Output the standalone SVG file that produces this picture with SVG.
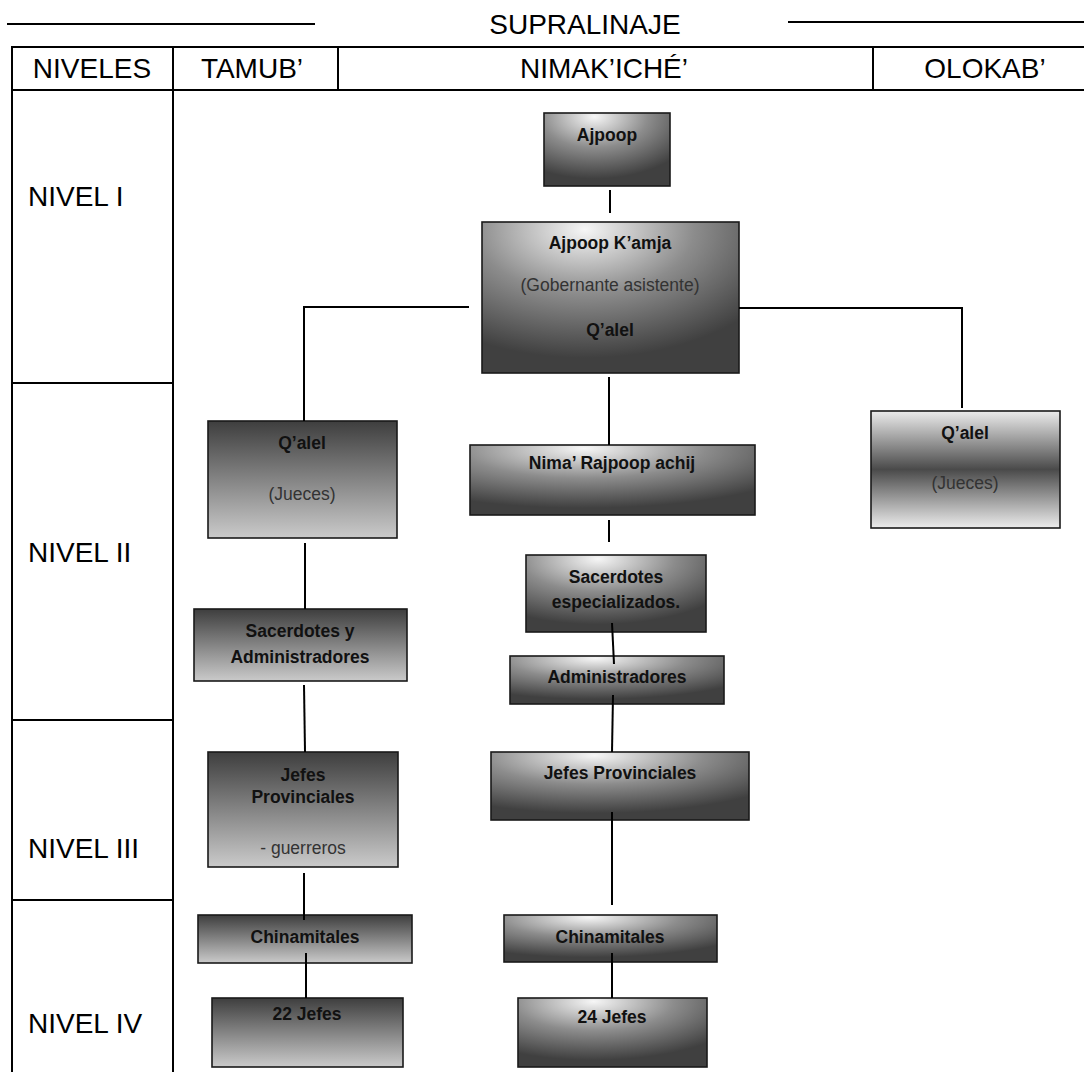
<svg xmlns="http://www.w3.org/2000/svg" width="1084" height="1072" viewBox="0 0 1084 1072">
<defs>
<radialGradient id="gDiag" cx="0.4" cy="0.05" r="0.85" fx="0.4" fy="0.05">
<stop offset="0" stop-color="#f6f6f6"/>
<stop offset="0.5" stop-color="#8c8c8c"/>
<stop offset="1" stop-color="#404040"/>
</radialGradient>
<linearGradient id="gDown" x1="0" y1="0" x2="0" y2="1">
<stop offset="0" stop-color="#3e3e3e"/>
<stop offset="1" stop-color="#cacaca"/>
</linearGradient>
<linearGradient id="gMid" x1="0" y1="0" x2="0" y2="1">
<stop offset="0" stop-color="#ececec"/>
<stop offset="0.5" stop-color="#4a4a4a"/>
<stop offset="1" stop-color="#ececec"/>
</linearGradient>
</defs>
<style>
.tbl{stroke:#000;stroke-width:2;fill:none}
.hdr{font-family:"Liberation Sans",Arial,sans-serif;font-size:28px;fill:#000;text-anchor:middle}
.lvl{font-family:"Liberation Sans",Arial,sans-serif;font-size:28px;fill:#000}
.box{stroke:#1a1a1a;stroke-width:1.6}
.d{fill:url(#gDiag)}
.v{fill:url(#gDown)}
.m{fill:url(#gMid)}
.b{font-family:"Liberation Sans",Arial,sans-serif;font-size:17.5px;font-weight:bold;fill:#111;text-anchor:middle}
.n{font-family:"Liberation Sans",Arial,sans-serif;font-size:17.5px;fill:#333;text-anchor:middle}
.con{stroke:#000;stroke-width:2;fill:none}
</style>
<rect width="1084" height="1072" fill="#fff"/>
<g id="table">
<line class="tbl" x1="7" y1="24" x2="315" y2="24" stroke-width="1.6"/>
<line class="tbl" x1="788" y1="22" x2="1084" y2="22"/>
<text class="hdr" x="585" y="34">SUPRALINAJE</text>
<line class="tbl" x1="11" y1="47" x2="1084" y2="47"/>
<line class="tbl" x1="11" y1="90" x2="1084" y2="90"/>
<line class="tbl" x1="12" y1="46" x2="12" y2="1072"/>
<line class="tbl" x1="173" y1="46" x2="173" y2="1072"/>
<line class="tbl" x1="338" y1="47" x2="338" y2="90"/>
<line class="tbl" x1="873" y1="47" x2="873" y2="90"/>
<line class="tbl" x1="12" y1="383" x2="173" y2="383"/>
<line class="tbl" x1="12" y1="720" x2="173" y2="720"/>
<line class="tbl" x1="12" y1="900" x2="173" y2="900"/>
<text class="hdr" x="92" y="78">NIVELES</text>
<text class="hdr" x="252" y="78">TAMUB’</text>
<text class="hdr" x="604" y="78">NIMAK’ICHÉ’</text>
<text class="hdr" x="985" y="78">OLOKAB’</text>
<text class="lvl" x="28" y="206">NIVEL I</text>
<text class="lvl" x="28" y="562">NIVEL II</text>
<text class="lvl" x="28" y="858">NIVEL III</text>
<text class="lvl" x="28" y="1033">NIVEL IV</text>
</g>
<g id="n-ajpoop"><rect class="box d" x="544" y="113" width="126" height="73"/><text class="b" x="607" y="141">Ajpoop</text></g>
<g id="n-kamja"><rect class="box d" x="482" y="222" width="257" height="151"/><text class="b" x="610" y="249">Ajpoop K’amja</text><text class="n" x="610" y="291">(Gobernante asistente)</text><text class="b" x="610" y="336">Q’alel</text></g>
<g id="n-qalel-t"><rect class="box v" x="208" y="421" width="189" height="117"/><text class="b" x="302" y="449">Q’alel</text><text class="n" x="302" y="500">(Jueces)</text></g>
<g id="n-qalel-o"><rect class="box m" x="871" y="411" width="189" height="117"/><text class="b" x="965" y="439">Q’alel</text><text class="n" x="965" y="489">(Jueces)</text></g>
<g id="n-nima"><rect class="box d" x="470" y="445" width="285" height="70"/><text class="b" x="612" y="469">Nima’ Rajpoop achij</text></g>
<g id="n-sacesp"><rect class="box d" x="526" y="555" width="180" height="77"/><text class="b" x="616" y="583">Sacerdotes</text><text class="b" x="616" y="608">especializados.</text></g>
<g id="n-admin"><rect class="box d" x="510" y="656" width="214" height="48"/><text class="b" x="617" y="683">Administradores</text></g>
<g id="n-sacadm"><rect class="box v" x="194" y="609" width="213" height="72"/><text class="b" x="300" y="637">Sacerdotes y</text><text class="b" x="300" y="663">Administradores</text></g>
<g id="n-jefes-t"><rect class="box v" x="208" y="752" width="190" height="115"/><text class="b" x="303" y="781">Jefes</text><text class="b" x="303" y="803">Provinciales</text><text class="n" x="303" y="854">- guerreros</text></g>
<g id="n-jefes-n"><rect class="box d" x="491" y="752" width="258" height="68"/><text class="b" x="620" y="779">Jefes Provinciales</text></g>
<g id="n-chin-t"><rect class="box v" x="198" y="915" width="214" height="48"/><text class="b" x="305" y="943">Chinamitales</text></g>
<g id="n-chin-n"><rect class="box d" x="504" y="915" width="213" height="47"/><text class="b" x="610" y="943">Chinamitales</text></g>
<g id="n-22"><rect class="box v" x="212" y="998" width="191" height="69"/><text class="b" x="307" y="1020">22 Jefes</text></g>
<g id="n-24"><rect class="box d" x="518" y="998" width="189" height="69"/><text class="b" x="612" y="1023">24 Jefes</text></g>
<g id="connectors">
<line class="con" x1="610" y1="190" x2="610" y2="213"/>
<polyline class="con" points="469,307 304,307 304,421"/>
<polyline class="con" points="739,308 962,308 962,408"/>
<line class="con" x1="609" y1="377" x2="609" y2="445"/>
<line class="con" x1="609" y1="520" x2="609" y2="542"/>
<line class="con" x1="612" y1="623" x2="614" y2="664"/>
<line class="con" x1="613" y1="695" x2="612" y2="752"/>
<line class="con" x1="612" y1="812" x2="612" y2="905"/>
<line class="con" x1="612" y1="953" x2="612" y2="998"/>
<line class="con" x1="305" y1="543" x2="305" y2="609"/>
<line class="con" x1="304" y1="685" x2="305" y2="752"/>
<line class="con" x1="304" y1="873" x2="304" y2="920"/>
<line class="con" x1="306" y1="953" x2="306" y2="998"/>
</g>
</svg>
